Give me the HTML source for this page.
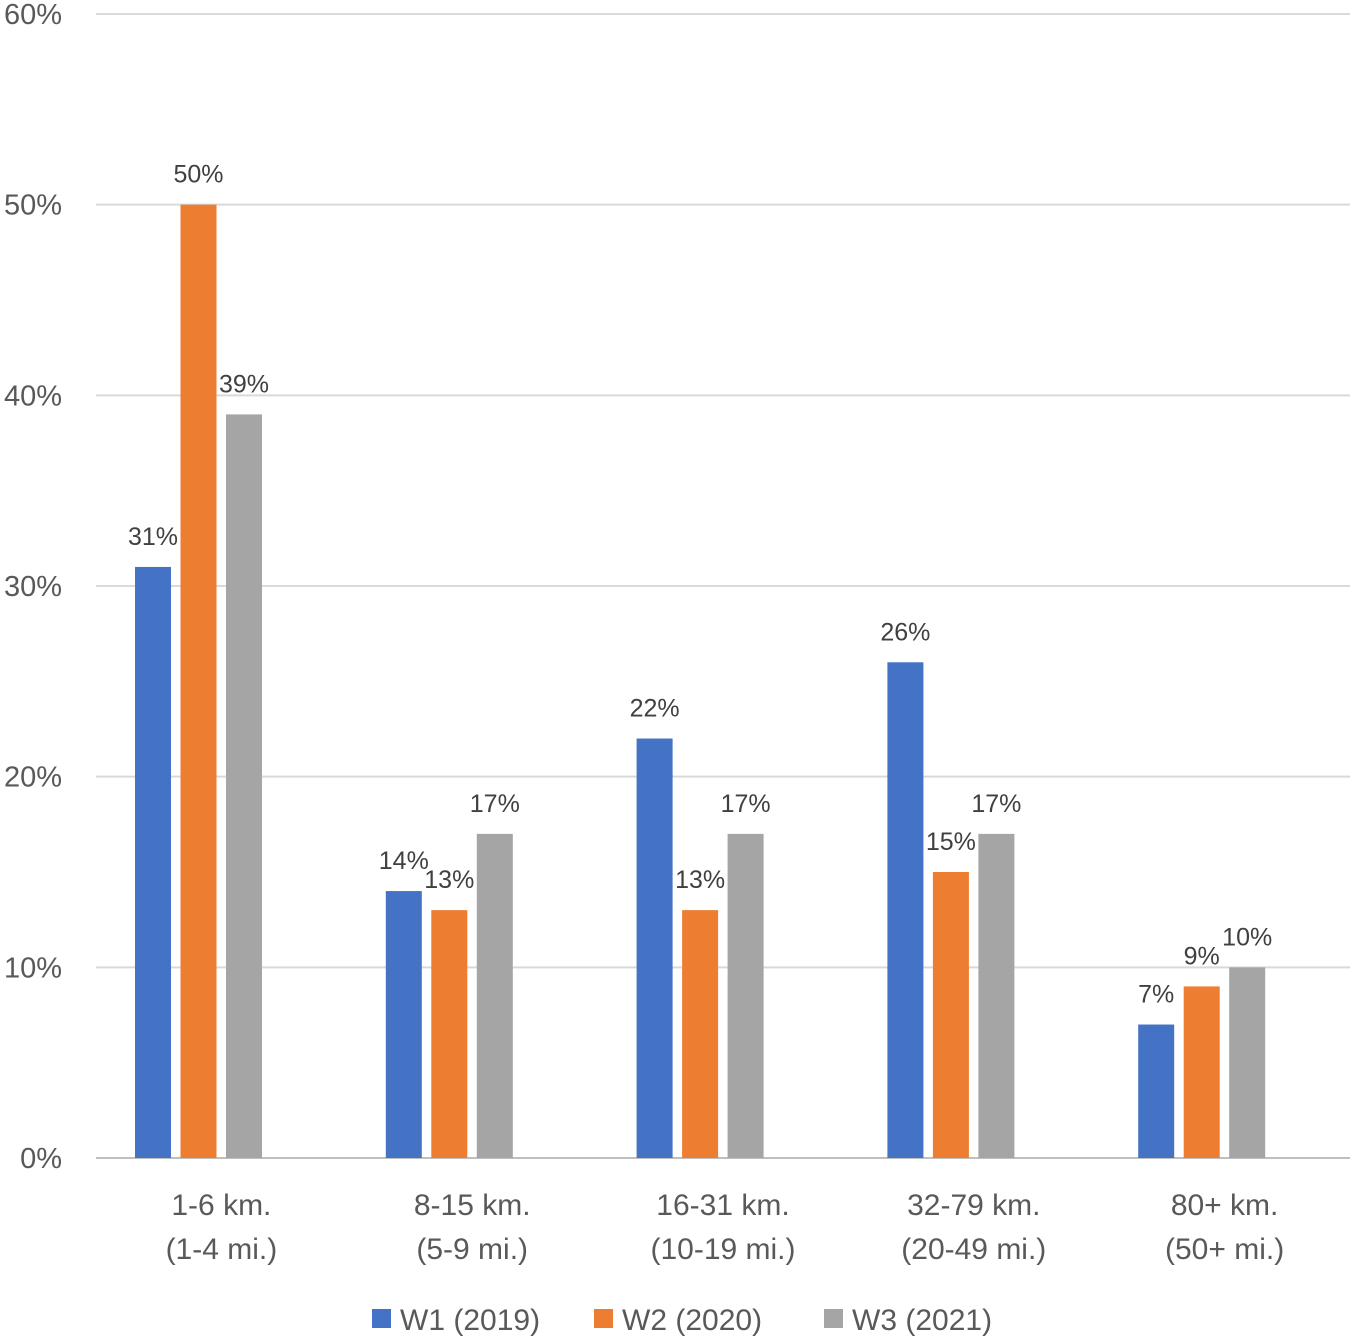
<!DOCTYPE html>
<html><head><meta charset="utf-8"><style>
html,body{margin:0;padding:0;background:#fff;}
svg{display:block;font-family:"Liberation Sans",sans-serif;}
</style></head><body>
<svg id="chart" width="1350" height="1336" viewBox="0 0 1350 1336" xmlns="http://www.w3.org/2000/svg"></svg>
<script>
const categories1 = ["1-6 km.","8-15 km.","16-31 km.","32-79 km.","80+ km."];
const categories2 = ["(1-4 mi.)","(5-9 mi.)","(10-19 mi.)","(20-49 mi.)","(50+ mi.)"];
const seriesNames = ["W1 (2019)","W2 (2020)","W3 (2021)"];
const w1 = [31,14,22,26,7];
const w2 = [50,13,13,15,9];
const w3 = [39,17,17,17,10];
const yTicks = [0,10,20,30,40,50,60];
const colors = ["#4472c4","#ed7d31","#a5a5a5"];
const NS="http://www.w3.org/2000/svg";
const svg=document.getElementById('chart');
const x0=96,x1=1350,y0=1158,yTop=14,yMax=60;
const catW=(x1-x0)/categories1.length;
function y(v){return y0-(v/yMax)*(y0-yTop);}
function mk(tag,attrs,text){const e=document.createElementNS(NS,tag);for(const k in attrs)e.setAttribute(k,attrs[k]);if(text!==undefined)e.textContent=text;svg.appendChild(e);return e;}
yTicks.forEach(t=>{
  const g=mk('line',{x1:x0,x2:x1,y1:y(t),y2:y(t),stroke:t===0?'#bfbfbf':'#d9d9d9','stroke-width':2});
  
  
  const l=mk('text',{x:62,y:y(t)+10,'text-anchor':'end','font-size':29,fill:'#595959'},t+'%');
  
  
});
const series=[w1,w2,w3];
const bw=36,step=45.5;
categories1.forEach((c,i)=>{
  series.forEach((s,j)=>{
    const bx=x0+i*catW+39+j*step;
    const r=mk('rect',{x:bx,y:y(s[i]),width:bw,height:y0-y(s[i]),fill:colors[j]});
    
    
    const t=mk('text',{x:bx+bw/2,y:y(s[i])-22,'text-anchor':'middle','font-size':25,fill:'#404040'},s[i]+'%');
    
    
  });
  const cx=x0+i*catW+catW/2;
  const a=mk('text',{x:cx,y:1215,'text-anchor':'middle','font-size':30,fill:'#595959'},c);
  
  
  const b=mk('text',{x:cx,y:1259,'text-anchor':'middle','font-size':30,fill:'#595959'},categories2[i]);
  
  
});
const legX=[372,594,824];
seriesNames.forEach((n,j)=>{
  const r=mk('rect',{x:legX[j],y:1309,width:19,height:19,fill:colors[j]});
  
  
  const t=mk('text',{x:legX[j]+28,y:1330,'font-size':30,fill:'#595959'},n);
  
  
});
</script>
</body></html>
